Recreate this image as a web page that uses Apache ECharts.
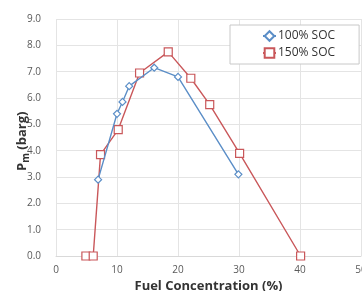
<!DOCTYPE html>
<html>
<head>
<meta charset="utf-8">
<script src="https://cdn.jsdelivr.net/npm/echarts@6/dist/echarts.min.js"></script>
<style>
  html, body { margin: 0; padding: 0; background: #fff; }
  #chartmain { width: 362px; height: 291px; }
</style>
</head>
<body>
<div id="chartmain"></div>
<script>
// 100% SOC 数据 [燃料浓度 %, Pm barg]
var soc100X = [6.9, 10, 10.9, 12, 16.1, 20, 29.9];
var soc100Y = [2.9, 5.4, 5.85, 6.45, 7.15, 6.8, 3.1];
// 150% SOC 数据
var soc150X = [4.9, 6.1, 7.3, 10.2, 13.7, 18.4, 22.1, 25.2, 30.1, 40.1];
var soc150Y = [0, 0, 3.85, 4.8, 6.95, 7.75, 6.75, 5.75, 3.9, 0];
var seriesNames = ['100% SOC', '150% SOC'];
var xTicks = [0, 10, 20, 30, 40, 50];

function zip(xs, ys) {
    return xs.map(function (x, i) { return [x, ys[i]]; });
}

var chart = echarts.init(document.getElementById('chartmain'));
var font = '"Open Sans", "Liberation Sans", sans-serif';

chart.setOption({
    animation: false,
    textStyle: { fontFamily: font },
    grid: { left: 56, right: 1, top: 19, bottom: 35, outerBoundsMode: 'none' },
    legend: {
        data: seriesNames,
        orient: 'vertical',
        left: 230,
        top: 25,
        padding: [5, 24, 5, 32],
        itemWidth: 13,
        itemHeight: 12,
        itemGap: 5,
        backgroundColor: '#fff',
        borderColor: '#c8c8c8',
        borderWidth: 1,
        textStyle: { fontSize: 12, color: '#333', fontFamily: font, padding: [0, 0, 0, -3] }
    },
    xAxis: {
        type: 'value',
        min: 0, max: 50, interval: 10,
        name: 'Fuel Concentration (%)',
        nameLocation: 'middle',
        nameGap: 20,
        nameTextStyle: { fontSize: 13, fontWeight: 'bold', color: '#333', fontFamily: font },
        axisLine: { show: true, lineStyle: { color: '#d9d9d9' } },
        axisTick: { show: false },
        splitLine: { show: true, lineStyle: { color: '#e4e4e4' } },
        axisLabel: {
            color: '#5a5a5a', fontSize: 10, margin: 9,
            formatter: function (v) { return xTicks.indexOf(v) >= 0 ? String(v) : ''; }
        }
    },
    yAxis: {
        type: 'value',
        min: 0, max: 9, interval: 1,
        axisLine: { show: false },
        axisTick: { show: false },
        splitLine: { show: true, lineStyle: { color: '#e4e4e4' } },
        axisLabel: {
            color: '#5a5a5a', fontSize: 10, margin: 15,
            formatter: function (v) { return v.toFixed(1); }
        }
    },
    graphic: [
        {
            type: 'text',
            x: 14, y: 171,
            rotation: Math.PI / 2,
            style: {
                text: '{p|P}{s|m}{p| (barg)}',
                rich: {
                    p: { font: 'bold 13px ' + font, fill: '#333' },
                    s: { font: 'bold 10px ' + font, fill: '#333', verticalAlign: 'bottom', padding: [7, 0, 0, 0] }
                }
            }
        }
    ],
    series: [
        {
            name: seriesNames[0],
            type: 'line',
            data: zip(soc100X, soc100Y),
            symbol: 'diamond',
            symbolSize: 7,
            color: '#5b8ec7',
            lineStyle: { width: 1.4, color: '#5b8ec7' },
            itemStyle: { color: '#fff', borderColor: '#5b8ec7', borderWidth: 1.2 },
            z: 3
        },
        {
            name: seriesNames[1],
            type: 'line',
            data: zip(soc150X, soc150Y),
            symbol: 'rect',
            symbolSize: 8,
            color: '#c9575a',
            lineStyle: { width: 1.4, color: '#c9575a' },
            itemStyle: { color: '#fff', borderColor: '#c9575a', borderWidth: 1.2 },
            z: 2
        }
    ]
});
</script>
</body>
</html>
